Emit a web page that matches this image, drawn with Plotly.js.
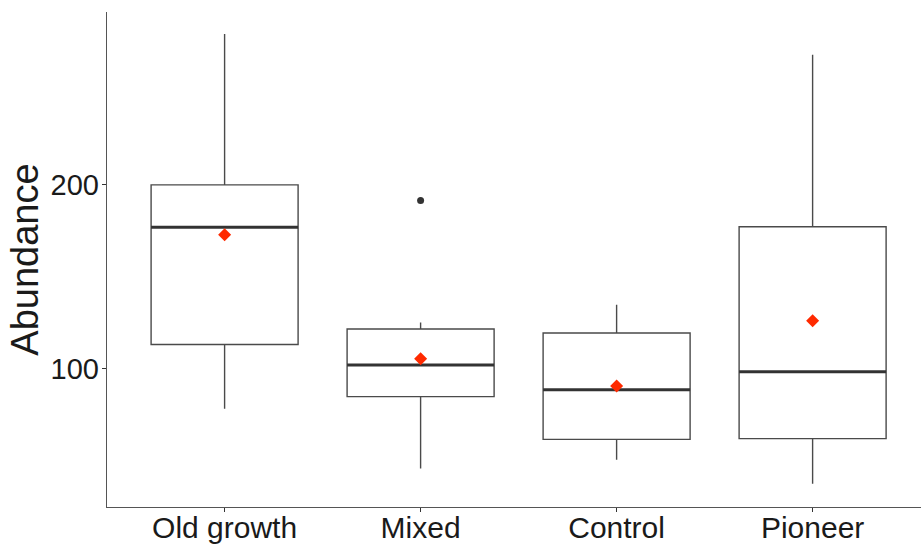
<!DOCTYPE html>
<html>
<head>
<meta charset="utf-8">
<script src="https://cdn.plot.ly/plotly-3.0.1.min.js"></script>
<style>html,body{margin:0;padding:0;background:#fff;}#chart{width:921px;height:545px;}</style>
</head>
<body>
<div id="chart"></div>
<script>
const categories = ["Old growth", "Mixed", "Control", "Pioneer"];
const lowerWhisker = [78.3, 45.8, 50.5, 37.5];
const q1Values = [113.2, 84.8, 61.6, 62.0];
const medianValues = [177.0, 102.0, 88.6, 98.4];
const q3Values = [200.0, 121.6, 119.4, 177.2];
const upperWhisker = [282.0, 125.2, 134.8, 270.7];
const meanValues = [172.8, 105.4, 90.6, 126.1];
const outlierCategory = ["Mixed"];
const outlierValues = [191.5];
const yTickValues = [100, 200];

const pos = categories.map((c, i) => i);
const boxWidth = 0.75;

const traces = [
  {
    type: "box",
    x: pos,
    q1: q1Values,
    median: medianValues,
    q3: q3Values,
    lowerfence: lowerWhisker,
    upperfence: upperWhisker,
    width: boxWidth,
    whiskerwidth: 0,
    fillcolor: "rgba(255,255,255,0)",
    line: { color: "#4a4a4a", width: 1.4 },
    boxpoints: false,
    hoverinfo: "skip",
    showlegend: false
  }
];

categories.forEach((c, i) => {
  traces.push({
    type: "scatter",
    mode: "lines",
    x: [i - boxWidth / 2, i + boxWidth / 2],
    y: [medianValues[i], medianValues[i]],
    line: { color: "#333333", width: 3 },
    hoverinfo: "skip",
    showlegend: false
  });
});

traces.push({
  type: "scatter",
  mode: "markers",
  x: pos,
  y: meanValues,
  marker: { symbol: "diamond", color: "#ff2a00", size: 10 },
  showlegend: false
});

traces.push({
  type: "scatter",
  mode: "markers",
  x: outlierCategory.map(c => categories.indexOf(c)),
  y: outlierValues,
  marker: { symbol: "circle", color: "#333333", size: 7 },
  showlegend: false
});

const layout = {
  width: 921,
  height: 545,
  margin: { l: 107, r: 0, t: 12, b: 38 },
  paper_bgcolor: "#ffffff",
  plot_bgcolor: "#ffffff",
  font: { family: "Liberation Sans, Arial, sans-serif", color: "#1a1a1a" },
  xaxis: {
    range: [-0.6, 3.553],
    tickvals: pos,
    ticktext: categories,
    showgrid: false,
    zeroline: false,
    showline: true,
    linecolor: "#555555",
    linewidth: 1.3,
    ticks: "outside",
    ticklen: 4,
    tickcolor: "#333333",
    tickwidth: 1,
    tickfont: { size: 30, color: "#1a1a1a" },
    ticklabelstandoff: -10,
    automargin: false
  },
  yaxis: {
    range: [24.8, 294],
    tickvals: yTickValues,
    ticktext: yTickValues.map(String),
    showgrid: false,
    zeroline: false,
    showline: true,
    linecolor: "#555555",
    linewidth: 1.3,
    ticks: "outside",
    ticklen: 4,
    tickcolor: "#333333",
    tickwidth: 1,
    tickfont: { size: 29, color: "#1a1a1a" },
    ticklabelstandoff: -3,
    title: { text: "Abundance", font: { size: 38, color: "#1a1a1a" }, standoff: 0 },
    automargin: false
  }
};

Plotly.newPlot("chart", traces, layout, { staticPlot: true, displayModeBar: false });
</script>
</body>
</html>
